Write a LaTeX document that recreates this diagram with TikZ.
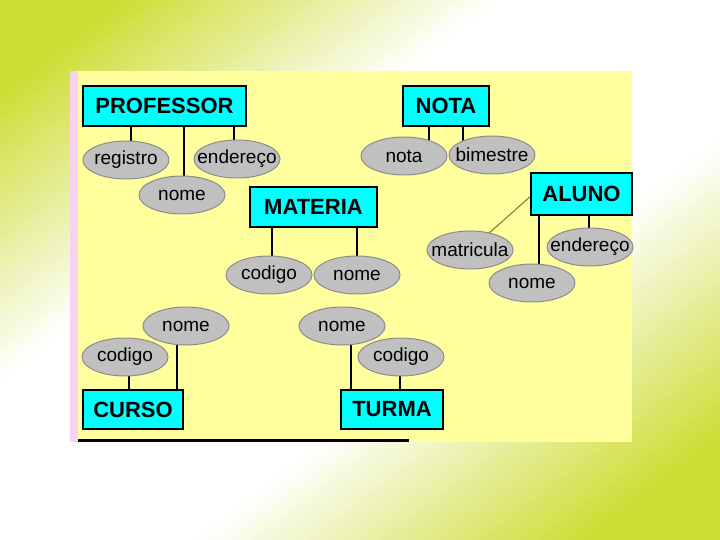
\documentclass[tikz,border=0pt]{standalone}
\usepackage{fontspec}
\setmainfont{Liberation Sans}
\usetikzlibrary{shapes.geometric,calc}
\definecolor{bggreen}{RGB}{205,220,48}
\definecolor{panel}{RGB}{255,255,158}
\definecolor{pinkstrip}{RGB}{248,210,240}
\definecolor{attrgray}{RGB}{192,192,192}
\definecolor{attredge}{RGB}{140,140,140}
\definecolor{entcyan}{RGB}{0,255,255}
\definecolor{olive}{RGB}{120,120,40}
\pgfdeclarelayer{bottomlayer}
\pgfdeclarelayer{linklayer}
\pgfsetlayers{bottomlayer,linklayer,main}
\newcommand{\atxt}[1]{\makebox[0pt]{#1}}
\begin{document}
\begin{tikzpicture}[x=1pt,y=-1pt,
 entity/.style={draw=black, line width=2.5pt, fill=entcyan, font=\fontsize{22}{24}\selectfont\bfseries, inner sep=0pt},
 attr/.style={ellipse, draw=attredge, line width=1pt, fill=attrgray, minimum width=86pt, minimum height=38pt, inner sep=0pt, font=\fontsize{19}{22}\selectfont},
 link/.style={draw=black, line width=1.8pt},
 thinlink/.style={draw=black, line width=1.1pt}]
\useasboundingbox (0,0) rectangle (720,540);
% entities
\node[entity, minimum width=163pt, minimum height=40pt] (prof) at (164.5,106) {PROFESSOR};
\node[entity, minimum width=86pt, minimum height=40pt] (nota) at (446,106) {NOTA};
\node[entity, minimum width=127pt, minimum height=40pt] (mat) at (313.5,207) {MATERIA};
\node[entity, minimum width=101pt, minimum height=42pt] (aluno) at (581.5,194) {ALUNO};
\node[entity, minimum width=100pt, minimum height=39pt] (curso) at (133,409.5) {CURSO};
\node[entity, minimum width=102pt, minimum height=39pt] (turma) at (392,409.5) {TURMA};
% attributes
\node[attr] (preg) at (126,160) {\atxt{registro}};
\node[attr] (pend) at (237,159) {\atxt{endereço}};
\node[attr] (pnom) at (182,195) {\atxt{nome}};
\node[attr] (nnot) at (404,156) {\atxt{nota}};
\node[attr] (nbim) at (492,155) {\atxt{bimestre}};
\node[attr] (mcod) at (269,275) {\atxt{codigo}};
\node[attr] (mnom) at (357,275) {\atxt{nome}};
\node[attr] (amat) at (470,250) {\atxt{matricula}};
\node[attr] (aend) at (590,247) {\atxt{endereço}};
\node[attr] (anom) at (532,283) {\atxt{nome}};
\node[attr] (cnom) at (186,326) {\atxt{nome}};
\node[attr] (ccod) at (125,357) {\atxt{codigo}};
\node[attr] (tnom) at (342,326) {\atxt{nome}};
\node[attr] (tcod) at (401,357) {\atxt{codigo}};
% connectors
\begin{pgfonlayer}{linklayer}
\draw[link] ($(prof.south)+(-33.5,0)$) -- ($(preg.center)+(5,0)$);
\draw[link] ($(prof.south)+(19.5,0)$) -- ($(pnom.center)+(2,0)$);
\draw[link] ($(prof.south)+(69.5,0)$) -- ($(pend.center)+(-3,0)$);
\draw[link] ($(nota.south)+(-17,0)$) -- ($(nnot.center)+(25,0)$);
\draw[link] ($(nota.south)+(17,0)$) -- ($(nbim.center)+(-29,0)$);
\draw[link] ($(mat.south)+(-41.5,0)$) -- ($(mcod.center)+(3,0)$);
\draw[link] ($(mat.south)+(43.5,0)$) -- (mnom.center);
\draw[draw=olive, line width=1pt] ($(aluno.west)+(0,3)$) -- (amat.center);
\draw[link] ($(aluno.south)+(-42.5,0)$) -- ($(anom.center)+(7,0)$);
\draw[link] ($(aluno.south)+(7.5,0)$) -- ($(aend.center)+(-1,0)$);
\draw[thinlink] ($(curso.north)+(-4,0)$) -- ($(ccod.center)+(4,0)$);
\draw[thinlink] ($(curso.north)+(44,0)$) -- ($(cnom.center)+(-9,0)$);
\draw[link] ($(turma.north)+(-41,0)$) -- ($(tnom.center)+(9,0)$);
\draw[thinlink] ($(turma.north)+(8,0)$) -- ($(tcod.center)+(-1,0)$);
\end{pgfonlayer}
% background
\begin{pgfonlayer}{bottomlayer}
\begin{scope}
\clip (0,0) rectangle (720,540);
\fill[white] (0,0) rectangle (720,540);
\foreach \i in {0,...,99}{
  \pgfmathsetmacro\tt{(\i+0.5)/100}
  \pgfmathsetmacro\gg{100*max(0,min(1,max((0.35-\tt)/0.27,(\tt-0.63)/0.28)))}
  \pgfmathsetmacro\pa{\i*8.69-0.6}
  \pgfmathsetmacro\pb{(\i+1)*8.69+0.6}
  \fill[bggreen!\gg!white]
    ({\pa*cos(52.6)-1000*sin(52.6)},{\pa*sin(52.6)+1000*cos(52.6)}) --
    ({\pa*cos(52.6)+1000*sin(52.6)},{\pa*sin(52.6)-1000*cos(52.6)}) --
    ({\pb*cos(52.6)+1000*sin(52.6)},{\pb*sin(52.6)-1000*cos(52.6)}) --
    ({\pb*cos(52.6)-1000*sin(52.6)},{\pb*sin(52.6)+1000*cos(52.6)}) -- cycle;
}
\end{scope}
\fill[panel] (70,71) rectangle (632,442);
\fill[pinkstrip] (70,71) rectangle (78,442);
\draw[black, line width=3pt] (78,440) -- (409,440);
\end{pgfonlayer}
\end{tikzpicture}
\end{document}
